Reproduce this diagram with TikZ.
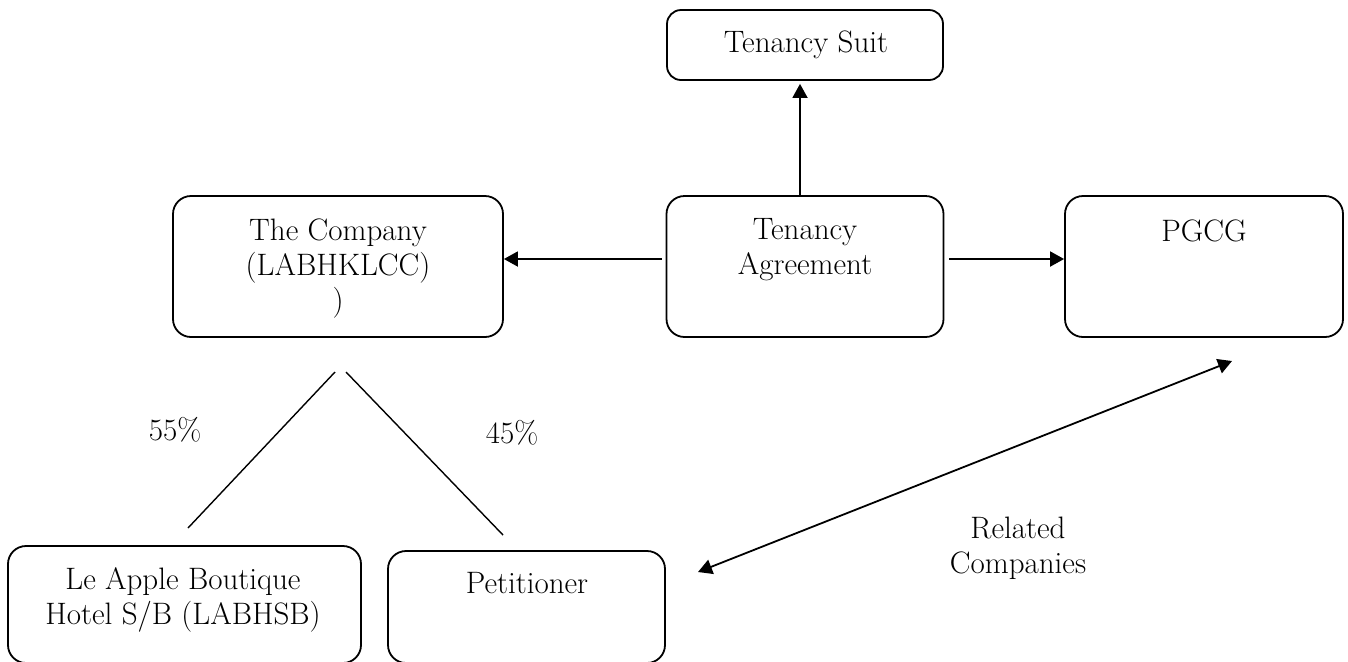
\documentclass[tikz,border=0pt]{standalone}
\usetikzlibrary{arrows.meta}
\begin{document}
\begin{tikzpicture}[x=0.5pt,y=-0.5pt,
  box/.style={draw, line width=0.9pt, rounded corners=9pt, inner sep=0pt},
  txt/.style={font=\fontsize{15.5}{17.5}\selectfont, align=center, inner sep=0pt, anchor=base},
  conn/.style={line width=0.9pt},
  thin/.style={line width=0.7pt},
  tip/.tip={Triangle[length=7pt,width=7.5pt]},
  arr/.style={conn,-tip},
  ]
\useasboundingbox (0,0) rectangle (1348,661);
% boxes
\node[box, rounded corners=7pt, minimum width=138pt, minimum height=35pt] (suit) at (805,45) {};
\node[box, minimum width=165pt, minimum height=70.5pt] (comp) at (338,266.5) {};
\node[box, minimum width=138.5pt, minimum height=70.5pt] (agree) at (805,266.5) {};
\node[box, minimum width=139pt, minimum height=70.5pt] (pgcg) at (1204,266.5) {};
\node[box, minimum width=176.5pt, minimum height=58.5pt] (apple) at (184.5,604.5) {};
\node[box, minimum width=138.5pt, minimum height=56pt] (pet) at (526.5,607) {};
% texts (base = baseline of the last line)
\node[txt] (tsuit) at (806,52) {Tenancy Suit};
\node[txt] (tcomp) at (338,310) {The Company\\(LABHKLCC)\\)};
\node[txt] (tagree) at (805,274) {Tenancy\\Agreement};
\node[txt] (tpgcg) at (1204,241) {PGCG};
\node[txt] (tapple) at (183,624) {Le Apple Boutique\\Hotel S/B (LABHSB)};
\node[txt] (tpet) at (527,593) {Petitioner};
\node[txt] (p55) at (175,440) {55\%};
\node[txt] (p45) at (512,443) {45\%};
\node[txt] (trel) at (1018,573) {Related\\Companies};
% connectors
\draw[arr] ([xshift=-2.5pt]agree.north) -- ([xshift=-2.5pt,yshift=-1.5pt]suit.south);
\draw[arr] ([xshift=-2pt,yshift=3.75pt]agree.west) -- ([yshift=3.75pt]comp.east);
\draw[arr] ([xshift=2.5pt,yshift=3.75pt]agree.east) -- ([yshift=3.75pt]pgcg.west);
\coordinate (oL1) at (335,372);
\coordinate (oL2) at (188,528);
\coordinate (oR1) at (346,372);
\coordinate (oR2) at (503,535);
\draw[thin] (oL1) -- (oL2);
\draw[thin] (oR1) -- (oR2);
\coordinate (relA) at (698,572);
\coordinate (relB) at (1232,361);
\draw[conn,tip-tip] (relA) -- (relB);
\end{tikzpicture}
\end{document}
